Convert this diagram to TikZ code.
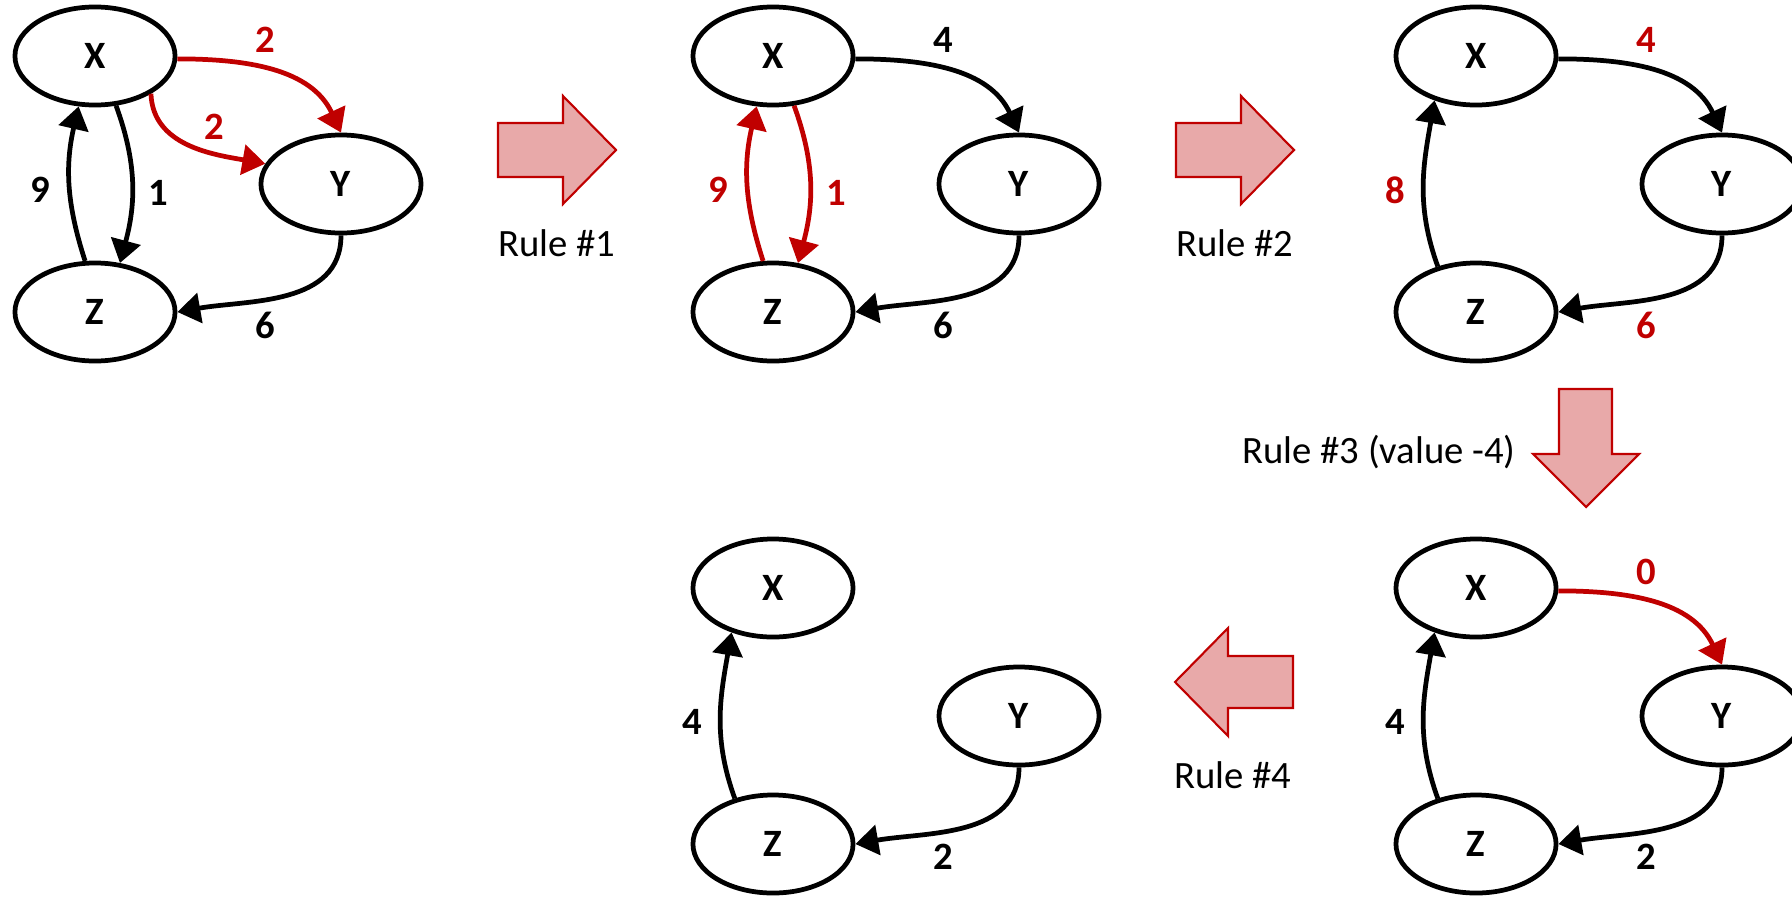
\documentclass[tikz,border=0pt]{standalone}
\usepackage{fontspec}
\setmainfont{Carlito}
\usetikzlibrary{arrows.meta,shapes.geometric}
\definecolor{hotred}{HTML}{C00000}
\definecolor{rulefill}{HTML}{E8A9A9}
\tikzset{
	vertex/.style={ellipse,draw,line width=1.35pt,minimum width=1.6cm,minimum height=0.98cm,inner sep=0pt,font=\fontsize{11}{13}\selectfont\bfseries},
	wt/.style={font=\fontsize{11}{13}\selectfont\bfseries},
	hot/.style={hotred},
	rulearrow/.style={draw=hotred,fill=rulefill,line width=0.6pt,line join=miter},
	rulename/.style={font=\fontsize{11}{13}\selectfont},
}
\begin{document}
\begin{tikzpicture}[x=0.01cm,y=0.01cm,line width=1.35pt,>={Triangle[length=6.5pt,width=8.5pt]}]
				\clip (0,0) rectangle (1792,-897);
				% start graph
				\begin{scope}
					\node[vertex] (x1) at (95,-56) {X};
					\node[vertex] (y1) at (341,-184) {Y};
					\node[vertex] (z1) at (95,-312) {Z};
					\draw[->,hot] (x1.-2) to[out=0,in=115] (y1.north);
					\draw[->,hot] (x1.-34) to[out=-88,in=170] (y1.165);
					\draw[->] (x1.-67) to[out=-70,in=75] (z1.63);
					\draw[->] (z1.101) to[out=108,in=-103] (x1.-108);
					\draw[->] (y1.south) to[out=-90,in=10] (z1.east);
					\node[wt,hot] (w1a) at (265,-40) {2};
					\node[wt,hot] (w1b) at (214,-127) {2};
					\node[wt] (w1c) at (158,-193) {1};
					\node[wt] (w1d) at (40,-190) {9};
					\node[wt] (w1e) at (265,-325) {6};
				\end{scope}
				\begin{scope}[shift={(678,0)}]
					\node[vertex] (x2) at (95,-56) {X};
					\node[vertex] (y2) at (341,-184) {Y};
					\node[vertex] (z2) at (95,-312) {Z};
					\draw[->] (x2.-2) to[out=0,in=115] (y2.north);
					\draw[->,hot] (x2.-67) to[out=-70,in=75] (z2.63);
					\draw[->,hot] (z2.101) to[out=108,in=-103] (x2.-108);
					\draw[->] (y2.south) to[out=-90,in=10] (z2.east);
					\node[wt] (w2a) at (265,-40) {4};
					\node[wt,hot] (w2c) at (158,-193) {1};
					\node[wt,hot] (w2d) at (40,-190) {9};
					\node[wt] (w2e) at (265,-325) {6};
				\end{scope}
				\begin{scope}[shift={(1381,0)}]
					\node[vertex] (x3) at (95,-56) {X};
					\node[vertex] (y3) at (341,-184) {Y};
					\node[vertex] (z3) at (95,-312) {Z};
					\draw[->] (x3.-2) to[out=0,in=115] (y3.north);
					\draw[->] (z3.130) to[out=110,in=-100] (x3.-133);
					\draw[->] (y3.south) to[out=-90,in=10] (z3.east);
					\node[wt,hot] (w3a) at (265,-40) {4};
					\node[wt,hot] (w3d) at (14,-190) {8};
					\node[wt,hot] (w3e) at (265,-325) {6};
				\end{scope}
				% end graph
				\begin{scope}[shift={(678,-532)}]
					\node[vertex] (x4) at (95,-56) {X};
					\node[vertex] (y4) at (341,-184) {Y};
					\node[vertex] (z4) at (95,-312) {Z};
					\draw[->] (z4.130) to[out=110,in=-100] (x4.-133);
					\draw[->] (y4.south) to[out=-90,in=10] (z4.east);
					\node[wt] (w4d) at (14,-190) {4};
					\node[wt] (w4e) at (265,-325) {2};
				\end{scope}
				\begin{scope}[shift={(1381,-532)}]
					\node[vertex] (x5) at (95,-56) {X};
					\node[vertex] (y5) at (341,-184) {Y};
					\node[vertex] (z5) at (95,-312) {Z};
					\draw[->,hot] (x5.-2) to[out=0,in=115] (y5.north);
					\draw[->] (z5.130) to[out=110,in=-100] (x5.-133);
					\draw[->] (y5.south) to[out=-90,in=10] (z5.east);
					\node[wt,hot] (w5a) at (265,-40) {0};
					\node[wt] (w5d) at (14,-190) {4};
					\node[wt] (w5e) at (265,-325) {2};
				\end{scope}
				% rule arrows
				\draw[rulearrow] (498,-123) -- (563,-123) -- (563,-96) -- (616,-150) -- (563,-204) -- (563,-177) -- (498,-177) -- cycle;
				\node[rulename] (r1) at (557,-243) {Rule \#1};
				\draw[rulearrow] (1176,-123) -- (1241,-123) -- (1241,-96) -- (1294,-150) -- (1241,-204) -- (1241,-177) -- (1176,-177) -- cycle;
				\node[rulename] (r2) at (1235,-243) {Rule \#2};
				\draw[rulearrow] (1559,-389) -- (1612,-389) -- (1612,-454) -- (1639,-454) -- (1586,-507) -- (1533,-454) -- (1559,-454) -- cycle;
				\node[rulename] (r3) at (1379,-452) {Rule \#3 (value -4)};
				\draw[rulearrow] (1293,-656) -- (1228,-656) -- (1228,-628) -- (1175,-682) -- (1228,-736) -- (1228,-708) -- (1293,-708) -- cycle;
				\node[rulename] (r4) at (1233,-775) {Rule \#4};
			\end{tikzpicture}
\end{document}
